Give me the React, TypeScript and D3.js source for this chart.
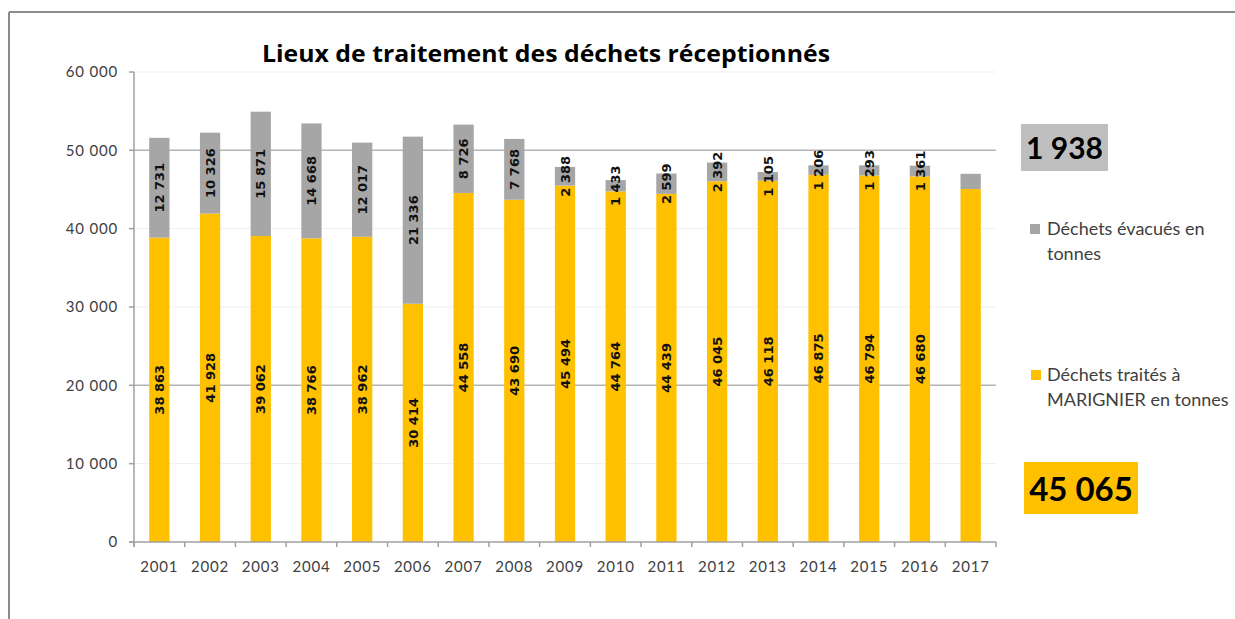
import React from "react";
import * as d3 from "d3";

const years = ["2001","2002","2003","2004","2005","2006","2007","2008","2009","2010","2011","2012","2013","2014","2015","2016","2017"];
const treated = [38863, 41928, 39062, 38766, 38962, 30414, 44558, 43690, 45494, 44764, 44439, 46045, 46118, 46875, 46794, 46680, 45065];
const evacuated = [12731, 10326, 15871, 14668, 12017, 21336, 8726, 7768, 2388, 1433, 2599, 2392, 1105, 1206, 1293, 1361, 1938];
const labelledYears = years.slice(0, 16);
const yTicks = [0, 10000, 20000, 30000, 40000, 50000, 60000];
const darkGrid = [20000, 50000];
const title = "Lieux de traitement des déchets réceptionnés";
const legendEvacuated = ["Déchets évacués en", "tonnes"];
const legendTreated = ["Déchets traités à", "MARIGNIER en tonnes"];

const YELLOW = "#ffc000";
const GRAY = "#a6a6a6";

const fr = d3.formatLocale({ decimal: ",", thousands: " ", grouping: [3], currency: ["", " €"] });
const fmt = fr.format(",d");

export default function App() {
  const left = 134, right = 996, top = 72, bottom = 542;
  const x = d3.scaleBand<string>().domain(years).range([left, right]).paddingInner(0.6).paddingOuter(0.3);
  const y = d3.scaleLinear().domain([0, 60000]).range([bottom, top]);
  const step = (right - left) / years.length;
  const bw = x.bandwidth();
  const lastT = treated[treated.length - 1];
  const lastE = evacuated[evacuated.length - 1];
  const labelFont = "'DejaVu Sans', sans-serif";
  const axisFont = "Lato, 'Open Sans', sans-serif";

  return (
    <svg width={1235} height={619} style={{ position: "absolute", left: 0, top: 0, background: "#fff" }}>
      <rect x={0} y={0} width={1235} height={619} fill="#fff" />
      {/* frame */}
      <line x1={9} y1={12} x2={1235} y2={12} stroke="#8c8c8c" strokeWidth={2} />
      <line x1={9} y1={12} x2={9} y2={619} stroke="#8c8c8c" strokeWidth={2} />

      <text x={262} y={62} fontFamily="'Open Sans', sans-serif" fontWeight={700} fontSize={23} textLength={568} lengthAdjust="spacingAndGlyphs" fill="#000">{title}</text>

      {/* gridlines */}
      {yTicks.filter(t => t > 0).map(t => (
        <line key={t} x1={left} x2={right} y1={y(t)} y2={y(t)}
          stroke={darkGrid.includes(t) ? "#b4b4b4" : "#efefef"} strokeWidth={darkGrid.includes(t) ? 1.5 : 1} />
      ))}

      {/* bars */}
      {years.map((yr, i) => (
        <g key={yr}>
          <rect x={x(yr)} width={bw} y={y(treated[i])} height={y(0) - y(treated[i])} fill={YELLOW} />
          <rect x={x(yr)} width={bw} y={y(treated[i] + evacuated[i])} height={y(treated[i]) - y(treated[i] + evacuated[i])} fill={GRAY} />
        </g>
      ))}

      {/* axes */}
      <line x1={left} x2={left} y1={top} y2={bottom + 5} stroke="#a0a0a0" strokeWidth={1.5} />
      <line x1={left - 5} x2={right} y1={bottom} y2={bottom} stroke="#a0a0a0" strokeWidth={1.5} />
      {yTicks.map(t => (
        <g key={t}>
          <line x1={left - 5} x2={left} y1={y(t)} y2={y(t)} stroke="#a0a0a0" strokeWidth={1.5} />
          <text x={118} y={y(t)} dy="0.35em" textAnchor="end" fontFamily={axisFont} fontSize={15} letterSpacing={0.8} fill="#404040">{fmt(t)}</text>
        </g>
      ))}
      {d3.range(years.length + 1).map(i => (
        <line key={i} x1={left + i * step} x2={left + i * step} y1={bottom} y2={bottom + 5} stroke="#a0a0a0" strokeWidth={1.5} />
      ))}
      {years.map(yr => (
        <text key={yr} x={(x(yr) as number) + bw / 2} y={567} dy="0.35em" textAnchor="middle" fontFamily={axisFont} fontSize={15} letterSpacing={0.8} fill="#404040">{yr}</text>
      ))}

      {/* data labels */}
      {labelledYears.map((yr, i) => {
        const cx = (x(yr) as number) + bw / 2;
        const cyT = (y(0) + y(treated[i])) / 2;
        const cyE = (y(treated[i]) + y(treated[i] + evacuated[i])) / 2;
        return (
          <g key={yr}>
            <text transform={`translate(${cx},${cyT}) rotate(-90)`} textAnchor="middle" dy="0.36em" fontFamily={labelFont} fontWeight={700} fontSize={13} fill="#111">{fmt(treated[i])}</text>
            <text transform={`translate(${cx},${cyE}) rotate(-90)`} textAnchor="middle" dy="0.36em" fontFamily={labelFont} fontWeight={700} fontSize={13} fill="#111">{fmt(evacuated[i])}</text>
          </g>
        );
      })}

      {/* legend */}
      <rect x={1030} y={224} width={10} height={10} fill={GRAY} />
      {legendEvacuated.map((s, i) => (
        <text key={s} x={1047} y={229 + i * 25} dy="0.35em" fontFamily={axisFont} fontSize={18} fill="#404040">{s}</text>
      ))}
      <rect x={1031} y={370} width={10} height={10} fill={YELLOW} />
      {legendTreated.map((s, i) => (
        <text key={s} x={1047} y={375 + i * 25} dy="0.35em" fontFamily={axisFont} fontSize={18} fill="#404040">{s}</text>
      ))}

      {/* highlighted 2017 values */}
      <rect x={1021} y={124} width={87} height={47} fill="#bfbfbf" />
      <text x={1064.5} y={148} dy="0.36em" textAnchor="middle" fontFamily={axisFont} fontWeight={700} fontSize={30} fill="#000">{fmt(lastE)}</text>
      <rect x={1024} y={462} width={114} height={52} fill={YELLOW} />
      <text x={1081} y={489} dy="0.36em" textAnchor="middle" fontFamily={axisFont} fontWeight={700} fontSize={33} fill="#000">{fmt(lastT)}</text>
    </svg>
  );
}
